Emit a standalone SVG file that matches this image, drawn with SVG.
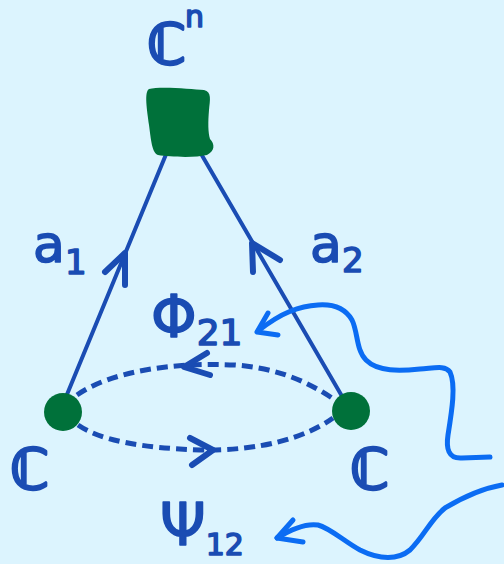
<svg xmlns="http://www.w3.org/2000/svg" width="504" height="564" viewBox="0 0 504 564">
<style>
.lbl{font-family:"DejaVu Sans","Noto Sans",sans-serif;fill:#1a4cb3;stroke:#1a4cb3;stroke-width:1.6;stroke-linejoin:round}
.bb{stroke-width:3}
.edge{stroke:#1a4cb3;stroke-width:4;fill:none;stroke-linecap:round}
.head{stroke:#1a4cb3;stroke-width:6;fill:none;stroke-linecap:round;stroke-linejoin:round}
.dash{stroke:#1a4cb3;stroke-width:5;fill:none;stroke-dasharray:11 6}
.wave{stroke:#0b6cf3;stroke-width:5;fill:none;stroke-linecap:round;stroke-linejoin:round}
.node{fill:#00713a}
</style>
<rect width="504" height="564" fill="#dcf4fe"/>
<g id="connectors">
  <path class="edge" d="M61,409 L167,152"/>
  <path class="head" d="M105,272 L125,253 L125,285"/>
  <path class="edge" d="M350,410 L200,152"/>
  <path class="head" d="M280,260 L252,243 L253,272"/>
  <path class="dash" d="M77,395 C110,372 170,362 235,365 C275,368 305,380 332,398"/>
  <path class="head" d="M207,353 L184,367 L210,375"/>
  <path class="dash" d="M78,425 C100,440 140,448 200,450 C260,451 305,438 333,418"/>
  <path class="head" d="M190,438 L213,450 L192,465"/>
  <path class="wave" d="M490,457 L462,458 C448,459 446,448 448,435 C452,410 456,385 450,372 C445,365 435,368 420,369 C400,371 378,372 366,360 C356,350 358,332 352,320 C345,308 332,304 318,305 C300,306 282,312 258,331"/>
  <path class="wave" d="M268,313 L257,332 L278,335"/>
  <path class="wave" d="M502,485 C485,488 465,496 445,508 C430,520 425,535 410,550 C398,560 380,560 360,550 C345,542 330,528 318,525 C305,523 290,530 277,538"/>
  <path class="wave" d="M293,520 L277,538 L303,542"/>
</g>
<g id="node-Cn">
  <path class="node" d="M149,89 C160,86 192,89 204,90 C212,92 210,100 209,110 C208,122 208,132 210,139 C215,144 215,151 207,155 C195,158 170,157 158,155 C152,153 151,140 149,125 C147,110 144,92 149,89 Z"/>
  <text class="lbl bb" x="147" y="64" font-size="56">ℂ</text>
  <text class="lbl" x="185" y="27" font-size="30">n</text>
</g>
<g id="node-C1">
  <circle class="node" cx="63" cy="412" r="19"/>
  <text class="lbl bb" x="10" y="489" font-size="56">ℂ</text>
</g>
<g id="node-C2">
  <circle class="node" cx="351" cy="411" r="19"/>
  <text class="lbl bb" x="350" y="489" font-size="56">ℂ</text>
</g>
<g id="labels">
  <text class="lbl" x="33" y="262" font-size="52">a<tspan font-size="34" dy="12">1</tspan></text>
  <text class="lbl" x="310" y="262" font-size="52">a<tspan font-size="34" dy="10">2</tspan></text>
  <text class="lbl" x="151" y="337" font-size="58">Φ<tspan font-size="36" dy="8">21</tspan></text>
  <text class="lbl" x="160" y="545" font-size="58">Ψ<tspan font-size="30" dy="10">12</tspan></text>
</g>
</svg>
